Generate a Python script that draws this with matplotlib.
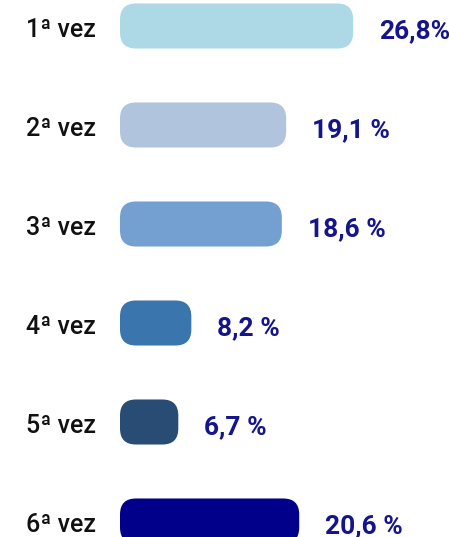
import matplotlib
matplotlib.use("Agg")
import matplotlib.pyplot as plt
from matplotlib.patches import FancyBboxPatch

categories = ["1ª vez", "2ª vez", "3ª vez", "4ª vez", "5ª vez", "6ª vez"]
values = [26.8, 19.1, 18.6, 8.2, 6.7, 20.6]
value_labels = ["26,8%", "19,1 %", "18,6 %", "8,2 %", "6,7 %", "20,6 %"]
colors = ["#ADD8E6", "#B0C4DE", "#74A0D1", "#3A76AD", "#294C74", "#00008B"]

W, H = 449, 537
fig = plt.figure(figsize=(W / 100, H / 100), dpi=100)
ax = fig.add_axes([0, 0, 1, 1])

px_per_x = 8.7      # pixels per percent
px_per_y = 99.0     # pixels per category step
x0_px = 120
y0_px = 26
ax.set_xlim(-x0_px / px_per_x, (W - x0_px) / px_per_x)
ax.set_ylim((H - y0_px) / px_per_y, -y0_px / px_per_y)
ax.axis("off")

bar_h = 0.455
rad_px = 16
aspect = px_per_x / px_per_y
for i, (v, c) in enumerate(zip(values, colors)):
    p = FancyBboxPatch((0, i - bar_h / 2), v, bar_h,
                       boxstyle=f"round,pad=0,rounding_size={rad_px / px_per_x}",
                       mutation_aspect=aspect, facecolor=c, edgecolor="none")
    ax.add_patch(p)
    ax.annotate(categories[i], xy=(0, i + 0.04), xytext=(-24 * 0.72, 0),
                textcoords="offset points", ha="right", va="center",
                fontsize=18, fontweight="medium", family="Roboto", color="#111111")
    ax.annotate(value_labels[i], xy=(v, i + 0.05), xytext=(26 * 0.72, 0),
                textcoords="offset points", ha="left", va="center",
                fontsize=19, fontweight="bold", family="Roboto", color="#14148C")

fig.savefig("out.png", dpi=100)
